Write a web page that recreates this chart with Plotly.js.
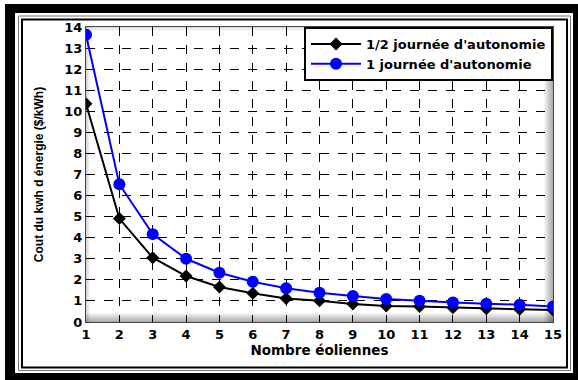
<!DOCTYPE html>
<html>
<head>
<meta charset="utf-8">
<script src="https://cdn.plot.ly/plotly-3.0.1.min.js"></script>
<style>
html,body{margin:0;padding:0;background:#fff;}
#chart{width:578px;height:380px;}
</style>
</head>
<body>
<div id="chart"></div>
<script>
// Data
const nombreEoliennes = [1,2,3,4,5,6,7,8,9,10,11,12,13,14,15];
const demiJournee = [10.36,4.91,3.05,2.18,1.66,1.36,1.12,1.01,0.85,0.76,0.73,0.68,0.63,0.60,0.57];
const uneJournee = [13.63,6.54,4.17,3.00,2.34,1.91,1.60,1.39,1.23,1.09,1.01,0.92,0.87,0.82,0.73];
const serieNames = ["1/2 journée d'autonomie", "1 journée d'autonomie"];
const xTitle = "Nombre éoliennes";
const yTitle = "Cout du kwh d énergie ($/kWh)";

const W = 578, H = 380;
const M = {l: 86, r: 25, t: 27, b: 58};
const PW = W - M.l - M.r, PH = H - M.t - M.b;
const px = v => (v - M.l) / PW;
const py = v => (H - M.b - v) / PH;

const shapes = [];
// outer frame
shapes.push({type:'rect', xref:'paper', yref:'paper', layer:'below',
  x0:px(5), x1:px(590), y0:py(390), y1:py(4), fillcolor:'#000', line:{width:0}});
shapes.push({type:'rect', xref:'paper', yref:'paper', layer:'below',
  x0:px(15), x1:px(573), y0:py(373), y1:py(13), fillcolor:'#fff', line:{width:0}});
shapes.push({type:'rect', xref:'paper', yref:'paper', layer:'below',
  x0:px(18.5), x1:px(570.5), y0:py(370.5), y1:py(16), fillcolor:'rgba(0,0,0,0)', line:{color:'#777', width:1}});
shapes.push({type:'rect', xref:'paper', yref:'paper', layer:'below',
  x0:px(22), x1:px(567), y0:py(367.5), y1:py(19.5), fillcolor:'rgba(0,0,0,0)', line:{color:'#000', width:2}});
// bevel shading inside plot area
for (let i = 1; i <= 9; i++) {
  shapes.push({type:'rect', xref:'paper', yref:'paper', layer:'below',
    x0:0, x1:1, y0:0, y1:i/PH, fillcolor:'rgba(0,0,0,0.04)', line:{width:0}});
  shapes.push({type:'rect', xref:'paper', yref:'paper', layer:'below',
    x0:1 - i/PW, x1:1, y0:0, y1:1, fillcolor:'rgba(0,0,0,0.04)', line:{width:0}});
}
for (let i = 1; i <= 4; i++) {
  shapes.push({type:'rect', xref:'paper', yref:'paper', layer:'below',
    x0:0, x1:i/PW, y0:0, y1:1, fillcolor:'rgba(0,0,0,0.04)', line:{width:0}});
  shapes.push({type:'rect', xref:'paper', yref:'paper', layer:'below',
    x0:0, x1:1, y0:1 - i/PH, y1:1, fillcolor:'rgba(0,0,0,0.03)', line:{width:0}});
}

const traces = [
  {x: nombreEoliennes, y: demiJournee, name: serieNames[0], type:'scatter', mode:'lines+markers',
   line:{color:'#000', width:2}, marker:{symbol:'diamond', size:10, color:'#000'}},
  {x: nombreEoliennes, y: uneJournee, name: serieNames[1], type:'scatter', mode:'lines+markers',
   line:{color:'#0000ff', width:2}, marker:{symbol:'circle', size:12, color:'#0000ff'}}
];

const tickFont = {family:'DejaVu Sans', size:13, color:'#000', weight:'bold'};
const layout = {
  width: W, height: H,
  margin: M,
  paper_bgcolor:'#fff', plot_bgcolor:'#fff',
  showlegend: true,
  legend: {x:1, xanchor:'right', y:1, yanchor:'top', bgcolor:'#fff',
    bordercolor:'#000', borderwidth:2, itemwidth:50,
    font:{family:'DejaVu Sans', size:13, color:'#000', weight:'bold'}},
  xaxis: {range:[1,15], tickvals: nombreEoliennes, showgrid:true, gridcolor:'#000',
    griddash:'dash', gridwidth:1, zeroline:false, showline:true, mirror:true,
    linecolor:'#444', linewidth:1, ticks:'', tickfont: tickFont, automargin:false,
    title:{text:xTitle, font:{family:'DejaVu Sans', size:13.5, color:'#000', weight:'bold'}, standoff:3}},
  yaxis: {range:[0,14], dtick:1, tick0:0, showgrid:true, gridcolor:'#000',
    griddash:'dash', gridwidth:1, zeroline:false, showline:true, mirror:true,
    linecolor:'#444', linewidth:1, ticks:'', tickfont: tickFont, automargin:false,
    title:{text:yTitle, font:{family:'Liberation Sans', size:12, color:'#000', weight:'bold'}, standoff:18}},
  shapes: shapes
};

Plotly.newPlot('chart', traces, layout, {displayModeBar:false, staticPlot:true});
</script>
</body>
</html>
